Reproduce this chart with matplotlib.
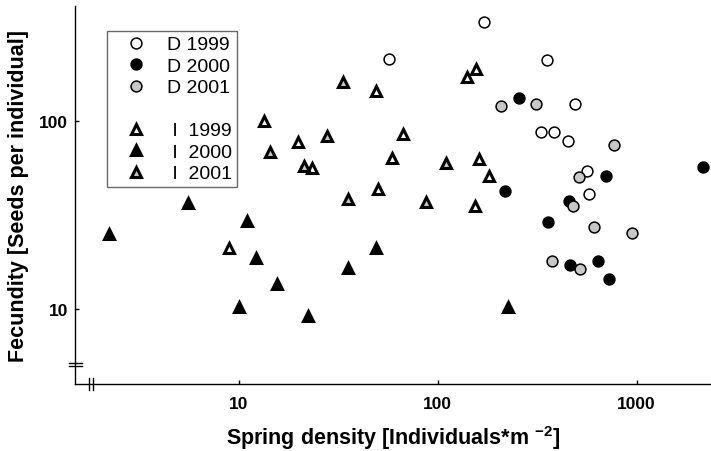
import matplotlib
matplotlib.use("Agg")
import matplotlib.pyplot as plt
from matplotlib.lines import Line2D

plt.rcParams['font.family'] = ['Liberation Sans', 'DejaVu Sans']
plt.rcParams['mathtext.fontset'] = 'custom'
plt.rcParams['mathtext.rm'] = 'Liberation Sans:bold'
plt.rcParams['mathtext.bf'] = 'Liberation Sans:bold'
plt.rcParams['mathtext.default'] = 'bf'

# ---- data ----
# D = circles, I = triangles
d1999_x = [170, 56.6, 354, 492, 330, 383, 450, 565, 574]
d1999_y = [333, 213, 210, 122.7, 86.8, 86.8, 77.8, 53.8, 40.8]

d2000_x = [257, 702, 2158, 218, 459, 360, 462, 640, 724]
d2000_y = [131.5, 50.8, 57, 42.2, 37.6, 28.9, 17.2, 18.0, 14.4]

d2001_x = [207, 313, 772, 513, 477, 612, 945, 375, 517]
d2001_y = [120.2, 122.7, 74.3, 50.2, 35.1, 27.2, 25.3, 18.0, 16.4]

i1999_x = [13.4, 19.9, 23.2, 48.7, 139.7, 155, 67, 58.7, 161.7, 181, 49.9, 153.9, 8.87]
i1999_y = [100, 76.8, 55.9, 144, 170, 188, 85, 63.1, 62.6, 51, 43.4, 35.4, 21.1]

i2000_x = [5.56, 11.0, 2.22, 12.2, 15.5, 9.97, 22.1, 35.5, 48.9, 224.7]
i2000_y = [36.6, 29.4, 25.0, 18.7, 13.6, 10.3, 9.15, 16.6, 21.0, 10.3]

i2001_x = [33.2, 27.6, 14.3, 21.1, 110, 35.5, 86.9]
i2001_y = [160, 83.2, 68, 57.3, 59.6, 38.4, 36.9]

grey = '#c8c8c8'

fig = plt.figure(figsize=(7.11, 4.52), dpi=100)
ax = fig.add_axes([0.1055, 0.148, 0.8945, 0.8365])

circ = dict(marker='o', markersize=7.8, markeredgewidth=1.1, markeredgecolor='black', linestyle='none')
tri = dict(marker='^', markersize=7.0, markeredgewidth=2.2, markeredgecolor='black', linestyle='none')

ax.plot(d1999_x, d1999_y, markerfacecolor='white', **circ)
ax.plot(d2000_x, d2000_y, markerfacecolor='black', **circ)
ax.plot(d2001_x, d2001_y, markerfacecolor=grey, **circ)
ax.plot(i1999_x, i1999_y, markerfacecolor='white', **tri)
ax.plot(i2000_x, i2000_y, markerfacecolor='black', **tri)
ax.plot(i2001_x, i2001_y, markerfacecolor=grey, **tri)

ax.set_xscale('log')
ax.set_yscale('log')
ax.set_xlim(1.496, 2366)
ax.set_ylim(4.0, 406)
ax.set_xticks([10, 100, 1000])
ax.set_xticklabels(['10', '100', '1000'])
ax.set_yticks([10, 100])
ax.set_yticklabels(['10', '100'])
ax.minorticks_off()
ax.tick_params(axis='both', direction='in', length=3, width=1, labelsize=12.5)
ax.tick_params(axis='x', pad=8.5)
ax.tick_params(axis='y', pad=4.8)
for lab in ax.get_xticklabels() + ax.get_yticklabels():
    lab.set_fontweight('bold')

ax.spines['top'].set_visible(False)
ax.spines['right'].set_visible(False)
ax.spines['left'].set_linewidth(1.0)
ax.spines['bottom'].set_linewidth(1.0)

ax.set_xlabel(r'Spring density [Individuals*m $^{-2}$]', fontsize=15.5, fontweight='bold', labelpad=9)
ax.set_ylabel('Fecundity [Seeds per individual]', fontsize=15.5, fontweight='bold', labelpad=7.5)

# axis break marks
for yy in (0.0485, 0.0555):
    ax.plot([-0.01, 0.011], [yy, yy], transform=ax.transAxes, color='black', lw=1, clip_on=False)
for xx in (0.0225, 0.0278):
    ax.plot([xx, xx], [-0.016, 0.017], transform=ax.transAxes, color='black', lw=1, clip_on=False)

handles = [
    Line2D([], [], markerfacecolor='white', **circ),
    Line2D([], [], markerfacecolor='black', **circ),
    Line2D([], [], markerfacecolor=grey, **circ),
    Line2D([], [], linestyle='none', marker=None),
    Line2D([], [], markerfacecolor='white', **tri),
    Line2D([], [], markerfacecolor='black', **tri),
    Line2D([], [], markerfacecolor=grey, **tri),
]
labels = ['D 1999', 'D 2000', 'D 2001', '', ' I  1999', ' I  2000', ' I  2001']
leg = ax.legend(handles, labels, loc='upper left', bbox_to_anchor=(107 / 711, 1 - 32 / 452),
                bbox_transform=fig.transFigure, frameon=True, fancybox=False, fontsize=14,
                handlelength=2.5, handletextpad=0.35, labelspacing=0.2, borderpad=0.25,
                borderaxespad=0, markerfirst=True)
leg.get_frame().set_edgecolor('#444444')
leg.get_frame().set_linewidth(1.0)

fig.savefig('out.png', dpi=100)
